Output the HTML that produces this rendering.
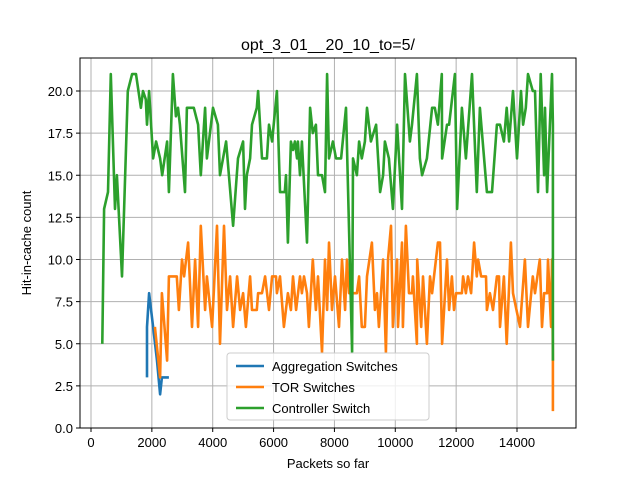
<!DOCTYPE html>
<html><head><meta charset="utf-8"><style>
body{margin:0;background:#fff;}
svg{display:block;font-family:"Liberation Sans","DejaVu Sans",sans-serif;}
</style></head><body>
<svg id="chart" width="640" height="480" viewBox="0 0 640 480" xmlns="http://www.w3.org/2000/svg">
<rect width="640" height="480" fill="#fff"/>
<g id="grid"></g><g id="series"></g><g id="axes"></g>
<text x="328" y="50" text-anchor="middle" font-size="16">opt_3_01__20_10_to=5/</text>
<text x="328" y="468" text-anchor="middle" font-size="13">Packets so far</text>
<text transform="translate(31,243) rotate(-90)" text-anchor="middle" font-size="13">Hit-in-cache count</text>
<g>
<rect x="227" y="353" width="202" height="67" rx="3" fill="#fff" fill-opacity="0.8" stroke="#ccc"/>
<line x1="236" y1="366" x2="264" y2="366" stroke="#1f77b4" stroke-width="2.6"/>
<text x="272" y="371" font-size="13">Aggregation Switches</text>
<line x1="236" y1="387" x2="264" y2="387" stroke="#ff7f0e" stroke-width="2.6"/>
<text x="272" y="392" font-size="13">TOR Switches</text>
<line x1="236" y1="408" x2="264" y2="408" stroke="#2ca02c" stroke-width="2.6"/>
<text x="272" y="413" font-size="13">Controller Switch</text>
</g>
</svg>
<script>
const xTicks=[0,2000,4000,6000,8000,10000,12000,14000];
const yTicks=[0,2.5,5,7.5,10,12.5,15,17.5,20];
const yTickLabels=["0.0","2.5","5.0","7.5","10.0","12.5","15.0","17.5","20.0"];
const aggX=[1840,1840,1910,2040,2170,2270,2330,2560];
const aggY=[3,6,8,6,4,2,3,3];
const torX=[2100,2270,2330,2500,2560,2690,2820,2890,2990,3060,3190,3320,3420,3520,3610,3750,3810,3980,4140,4240,4370,4470,4570,4670,4800,4900,5000,5090,5230,5290,5450,5490,5620,5720,5850,5950,6080,6110,6210,6340,6470,6570,6640,6740,6870,6930,7000,7100,7160,7290,7390,7460,7590,7690,7760,7820,7920,8020,8150,8250,8350,8410,8480,8580,8740,8810,8900,9000,9070,9230,9330,9400,9460,9530,9600,9690,9760,9860,9920,10060,10090,10220,10250,10350,10450,10550,10580,10710,10720,10850,10910,11040,11140,11210,11400,11470,11540,11700,11770,11860,11930,12000,12190,12230,12320,12390,12490,12590,12680,12720,12820,12980,13010,13110,13210,13340,13410,13440,13570,13660,13800,13870,14100,14260,14360,14520,14590,14750,14820,14890,14990,15020,15120,15150,15160,15180,15180];
const torY=[6,3,8,4,9,9,9,7,10,9,11,6,10,6,12,7,9,6,12,5,12,7,9,6,9,7,8,6,9,7,7,8,8,9,7,9,9,8,9,6,8,7,9,7,9,8,9,8,6,10,7,9,4.5,10,7,11,7,9,6,10,7,10,8,8,8,9,6,6,9,11,7,8,6,8,10,4.5,10,12,6,10,6,11,6,12,8,8,9,5,10,6,9,5,9,8,11,11,5,10,7,9,7,8,8,9,8,9,8,11,9,10,9,9,7,8,7,9,9,6,9,5,11,8,6,10,6,9,8,10,6,8,8,10,6,10,9,4,1];
const ctlX=[370,430,560,650,790,850,1020,1210,1350,1480,1640,1710,1800,1840,1910,2040,2140,2270,2340,2500,2560,2690,2790,2860,2920,3090,3150,3380,3520,3610,3750,3810,4010,4170,4240,4440,4670,4830,5000,5060,5120,5230,5290,5450,5490,5620,5780,5850,5950,6110,6210,6370,6410,6470,6570,6640,6700,6770,6800,6870,6930,7100,7200,7290,7390,7460,7590,7690,7760,7820,7950,8050,8220,8380,8580,8610,8740,8810,8900,9000,9070,9200,9370,9500,9600,9660,9790,9920,10060,10220,10320,10480,10550,10710,10810,10880,11040,11210,11300,11400,11530,11540,11700,11770,11960,12030,12190,12320,12520,12680,12780,13010,13180,13340,13440,13570,13660,13740,13870,14000,14130,14200,14290,14360,14520,14590,14690,14780,14890,14920,14990,15150,15180,15180];
const ctlY=[5,13,14,21,13,15,9,20,21,21,19,20,19.5,18,20,16,17,16,15,17,14,21,18.5,19,18,14,19,19,18,15,19,16,19,18,15,17,12,16,17,13,15,16,18,19,20,16,16,18,17,20,14,14,15,11,17,16.5,17,16,17,15,17,11,19,17.5,18,15,15,14,21,16,17,16,16,19,4.5,16,15,17,16,17,19,17,18,14,15,17,16,13,18,13,21,17,18,21,16,15,16,19,19,18,21,16,18,18,21,13,19,16,21,14,19,14,14,18,18,17,19,17,20,16,20,18,19,21,20,20,14,21,15,19,14,21,18,4];
const NS="http://www.w3.org/2000/svg";
function xs(v){return 91+v*(426/14000);}
function ys(v){return 428-v*(337/20);}
function mk(tag,attrs,parent){const e=document.createElementNS(NS,tag);for(const k in attrs)e.setAttribute(k,attrs[k]);parent.appendChild(e);return e;}
const grid=document.getElementById('grid'),axes=document.getElementById('axes'),ser=document.getElementById('series');
xTicks.forEach(t=>{const x=xs(t);
 const g=mk('line',{x1:x,x2:x,y1:58,y2:428,stroke:'#b0b0b0','stroke-width':1},grid);
 
 
 mk('line',{x1:x,x2:x,y1:428,y2:432,stroke:'#000'},axes);
 const tx=mk('text',{x:x,y:447,'text-anchor':'middle','font-size':13},axes);tx.textContent=t;
 
 
});
yTicks.forEach((t,i)=>{const y=ys(t);
 const g=mk('line',{x1:80,x2:576,y1:y,y2:y,stroke:'#b0b0b0','stroke-width':1},grid);
 
 
 mk('line',{x1:76,x2:80,y1:y,y2:y,stroke:'#000'},axes);
 const tx=mk('text',{x:73,y:y+5,'text-anchor':'end','font-size':13},axes);tx.textContent=yTickLabels[i];
 
 
});
const frame=mk('rect',{x:80,y:58,width:496,height:370,fill:'none',stroke:'#000','stroke-width':1},axes);


function line(X,Y,c,name){const p=mk('polyline',{points:X.map((x,i)=>xs(x).toFixed(1)+','+ys(Y[i]).toFixed(1)).join(' '),fill:'none',stroke:c,'stroke-width':2.6,'stroke-linejoin':'round'},ser);
 
 }
line(aggX,aggY,'#1f77b4','aggregation-switches-line');
line(torX,torY,'#ff7f0e','tor-switches-line');
line(ctlX,ctlY,'#2ca02c','controller-switch-line');
</script>
</body></html>
